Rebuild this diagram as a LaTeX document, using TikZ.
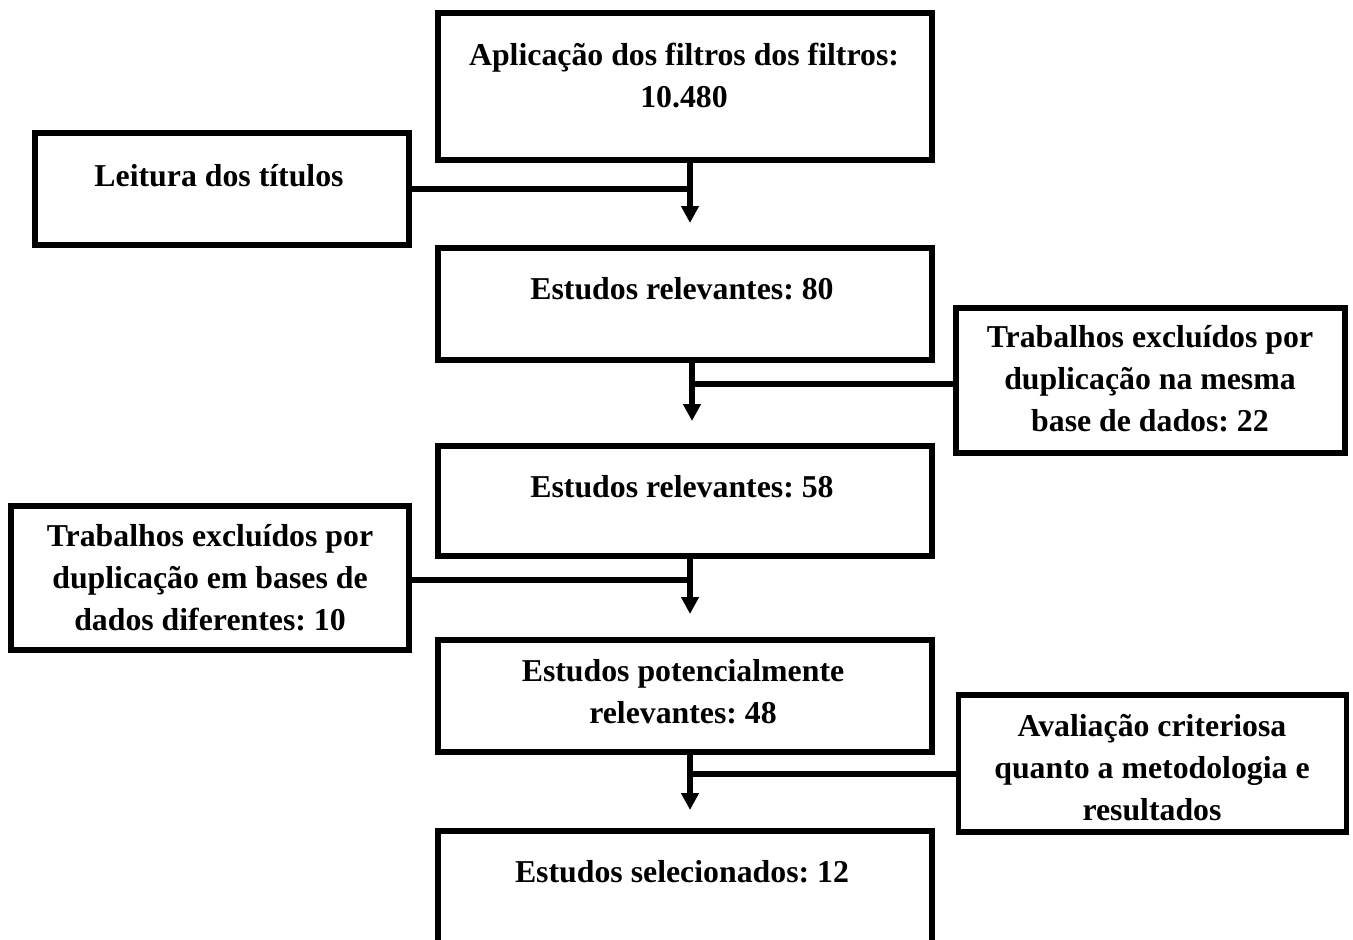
\documentclass[tikz,border=0pt]{standalone}
\usepackage{fontspec}
\setmainfont{Liberation Serif}
\usetikzlibrary{arrows.meta}
\frenchspacing

\def\RevisaoBoxLW{2.8pt}
\def\RevisaoLinkLW{2.8pt}
\def\RevisaoTipSize{8.5pt}
\def\RevisaoMainWidth{247pt}
\newcommand{\RevisaoStyles}{%
  \tikzset{
    rsbox/.style={rectangle, draw=black, line width=\RevisaoBoxLW, inner sep=0pt},
    rsboxMain/.style={rsbox, minimum width=\RevisaoMainWidth},
    rstext/.style={inner sep=0pt, align=center,
      font=\bfseries\fontsize{15.9}{21}\selectfont},
    rslink/.style={line width=\RevisaoLinkLW},
    rsflow/.style={
      rslink,
      -{Triangle[width=\RevisaoTipSize, length=\RevisaoTipSize]}},
  }%
}

\begin{document}
\begin{tikzpicture}[x=0.5pt, y=-0.5pt]
    \RevisaoStyles
    \useasboundingbox (0,0) rectangle (1353,939);

    % main column
    \node[rsboxMain, minimum height=73.5pt] (filtros) at (685,86.5) {};
    \node[rsboxMain, minimum height=56pt] (relev80) at (685,304) {};
    \node[rsboxMain, minimum height=55pt] (relev58) at (685,501) {};
    \node[rsboxMain, minimum height=56pt] (relev48) at (685,696) {};
    \node[rsboxMain, minimum height=62.5pt] (selec) at (685,893.5) {};

    % side boxes
    \node[rsbox, minimum width=187pt, minimum height=56pt] (titulos) at (222,189) {};
    \node[rsbox, minimum width=194.5pt, minimum height=72.5pt] (exclMesma) at (1150.5,380.5) {};
    \node[rsbox, minimum width=199pt, minimum height=72pt] (exclDif) at (210,578) {};
    \node[rsbox, minimum width=194pt, minimum height=68.5pt] (avalia) at (1152.5,763.5) {};

    % texts
    \node[rstext] (filtrosT) at (684,76) {Aplicação dos filtros dos filtros:\\10.480};
    \node[rstext] (relev80T) at (682,289) {Estudos relevantes: 80};
    \node[rstext] (relev58T) at (682,487) {Estudos relevantes: 58};
    \node[rstext] (relev48T) at (683,692) {Estudos potencialmente\\relevantes: 48};
    \node[rstext] (selecT) at (682,872) {Estudos selecionados: 12};
    \node[rstext] (titulosT) at (219,176) {Leitura dos títulos};
    \node[rstext] (exclMesmaT) at (1150,379) {Trabalhos excluídos por\\duplicação na mesma\\base de dados: 22};
    \node[rstext] (exclDifT) at (210,578) {Trabalhos excluídos por\\duplicação em bases de\\dados diferentes: 10};
    \node[rstext] (avaliaT) at (1152,768) {Avaliação criteriosa\\quanto a metodologia e\\resultados};

    % junctions and arrow tips
    \coordinate (j1) at (690,189);
    \coordinate (t1) at (690,223);
    \coordinate (j2) at (692,384);
    \coordinate (t2) at (692,421);
    \coordinate (j3) at (690,580);
    \coordinate (t3) at (690,614);
    \coordinate (j4) at (690,774);
    \coordinate (t4) at (690,810);

    \draw[rsflow] (filtros.south -| t1) -- (t1);
    \draw[rslink] (titulos.east) -- (j1);
    \draw[rsflow] (relev80.south -| t2) -- (t2);
    \draw[rslink] (exclMesma.west |- j2) -- (j2);
    \draw[rsflow] (relev58.south -| t3) -- (t3);
    \draw[rslink] (exclDif.east |- j3) -- (j3);
    \draw[rsflow] (relev48.south -| t4) -- (t4);
    \draw[rslink] (avalia.west |- j4) -- (j4);
\end{tikzpicture}
\end{document}
